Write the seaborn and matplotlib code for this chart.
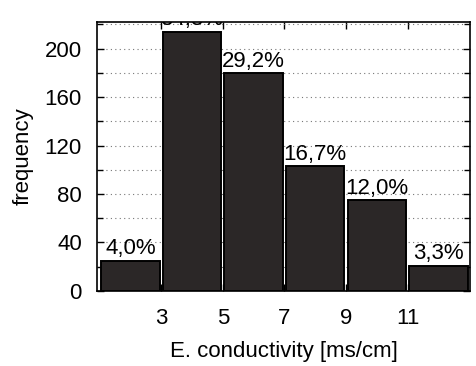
import matplotlib
matplotlib.use("Agg")
import matplotlib.pyplot as plt
from matplotlib.ticker import MultipleLocator
import seaborn as sns
import numpy as np

# histogram of E. conductivity (bins of 2 ms/cm)
bin_edges = [1, 3, 5, 7, 9, 11, 13]
counts = [25, 214, 180, 103, 75, 21]
pct_labels = ["4,0%", "34,8%", "29,2%", "16,7%", "12,0%", "3,3%"]
xtick_vals = [3, 5, 7, 9, 11]
ytick_vals = [0, 40, 80, 120, 160, 200]

sns.set_style("ticks")
plt.rcParams["font.family"] = ["Liberation Sans", "DejaVu Sans"]
plt.rcParams["text.color"] = "black"
plt.rcParams["axes.labelcolor"] = "black"
plt.rcParams["xtick.color"] = "black"
plt.rcParams["ytick.color"] = "black"

centers = [(a + b) / 2 for a, b in zip(bin_edges[:-1], bin_edges[1:])]

fig = plt.figure(figsize=(4.76, 3.66), dpi=100)
ax = fig.add_axes([0.204, 0.205, 0.783, 0.735])

sns.histplot(x=centers, weights=counts, bins=bin_edges, shrink=0.95,
             color="#2b2727", edgecolor="black", linewidth=1.4, alpha=1,
             ax=ax, zorder=3)

for c, n, lab in zip(centers, counts, pct_labels):
    ax.text(c, n + 1, lab, ha="center", va="bottom", fontsize=16,
            clip_on=True, zorder=4)

ax.set_xlim(0.92, 13.02)
ax.set_ylim(0, 222)
ax.set_xticks(xtick_vals)
ax.set_yticks(ytick_vals)
ax.yaxis.set_minor_locator(MultipleLocator(20))
ax.yaxis.grid(True, which="both", linestyle=(0, (1, 3)), color="#777777", lw=0.8, zorder=0)
ax.set_axisbelow(True)

ax.tick_params(axis="both", which="both", direction="in", labelsize=16,
               top=True, right=True, width=1)
ax.tick_params(axis="y", which="major", length=5, pad=11)
ax.tick_params(axis="x", which="major", length=5, pad=12)
ax.tick_params(axis="y", which="minor", length=4)
for s in ax.spines.values():
    s.set_linewidth(1.2)
    s.set_color("black")

ax.set_xlabel("E. conductivity [ms/cm]", fontsize=16, labelpad=9)
ax.set_ylabel("frequency", fontsize=16, labelpad=8)

fig.savefig("out.png", dpi=100)
